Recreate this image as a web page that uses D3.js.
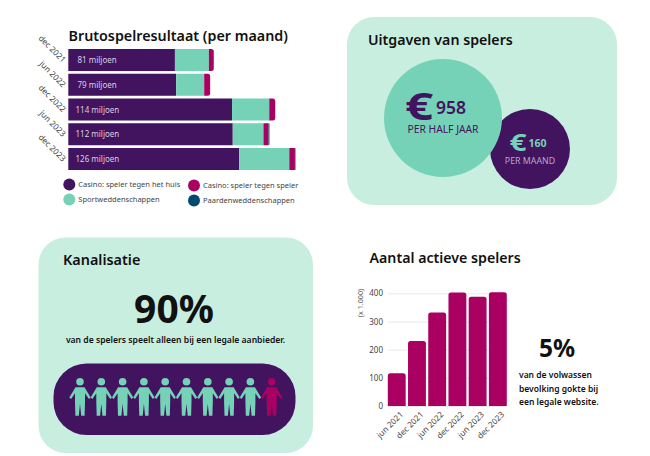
<!DOCTYPE html>
<html>
<head>
<meta charset="utf-8">
<script src="https://cdn.jsdelivr.net/npm/d3@7"></script>
<style>
  html, body { margin: 0; padding: 0; background: #fff; }
  svg { display: block; font-family: "Noto Sans", sans-serif; }
  .domain { display: none; }
</style>
</head>
<body>
<script>
// brutospelresultaat, in miljoen per maand
var periods = ["dec 2021", "jun 2022", "dec 2022", "jun 2023", "dec 2023"];
var totals = ["81 miljoen", "79 miljoen", "114 miljoen", "112 miljoen", "126 miljoen"];
var casinoHuis = [59, 59.7, 90.6, 91, 94.5];
var sport = [18.8, 15.5, 20.6, 17, 27.8];
var casinoSpeler = [2.7, 3.3, 3.3, 2.8, 3.1];
var paard = [0, 0, 0, 0.5, 0.3];

var legendNames = ["Casino: speler tegen het huis", "Sportweddenschappen", "Casino: speler tegen speler", "Paardenweddenschappen"];

// aantal actieve spelers (x 1.000)
var playerPeriods = ["jun 2021", "dec 2021", "jun 2022", "dec 2022", "jun 2023", "dec 2023"];
var players = [116, 231, 332, 403, 388, 404];
var playerTicks = [0, 100, 200, 300, 400];

// kanalisatie: 9 van de 10 spelers legaal
var people = ["legaal", "legaal", "legaal", "legaal", "legaal", "legaal", "legaal", "legaal", "legaal", "overig"];

var purple = "#42145f", teal = "#76d2b6", magenta = "#a90061", navy = "#01496f", pale = "#c8eee0";
var textDark = "#111";

var svg = d3.select("body").append("svg").attr("width", 650).attr("height", 456);

function panel(x, y, w, h, r) {
  svg.append("rect").attr("x", x).attr("y", y).attr("width", w).attr("height", h)
    .attr("rx", r).attr("fill", pale);
}
function label(x, y, txt, size, weight, fill, anchor) {
  return svg.append("text").attr("x", x).attr("y", y).attr("font-size", size)
    .attr("font-weight", weight).attr("fill", fill)
    .attr("text-anchor", anchor || "start").text(txt);
}
// de euro is breder dan in de Noto letter, dus horizontaal rekken
function euro(x, y, size, fill) {
  svg.append("text").attr("transform", "translate(" + x + "," + y + ") scale(1.3,1)")
    .attr("font-size", size).attr("font-weight", 700).attr("fill", fill).text("€");
}

panel(347, 17, 270, 188, 27);
panel(38.5, 237.5, 274.5, 215.5, 27);

// ---- stacked bars
label(68.5, 40.5, "Brutospelresultaat (per maand)", 14.3, 600, textDark);

var xStack = d3.scaleLinear().domain([0, 126]).range([68.3, 296]);
var yStack = d3.scaleBand().domain(periods).range([49, 170]).paddingInner(0.11);

var seriesList = [casinoHuis, sport, casinoSpeler, paard];
var seriesColors = [purple, teal, magenta, navy];

periods.forEach(function(p, i) {
  var start = 0;
  var lastIdx = d3.max(seriesList.map(function(s, k) { return s[i] > 0 ? k : 0; }));
  seriesList.forEach(function(s, k) {
    if (!(s[i] > 0)) return;
    var x0 = xStack(start), x1 = xStack(start + s[i]);
    var y0 = yStack(p), h = yStack.bandwidth();
    start += s[i];
    if (k === lastIdx) {
      // laatste stuk krijgt ronde hoeken rechts
      var r = Math.min(2.5, x1 - x0);
      svg.append("path")
        .attr("d", "M" + x0 + "," + y0 + "H" + (x1 - r) + "Q" + x1 + "," + y0 + " " + x1 + "," + (y0 + r) +
          "V" + (y0 + h - r) + "Q" + x1 + "," + (y0 + h) + " " + (x1 - r) + "," + (y0 + h) + "H" + x0 + "Z")
        .attr("fill", seriesColors[k]);
    } else {
      svg.append("rect").attr("x", x0).attr("y", y0).attr("width", x1 - x0).attr("height", h)
        .attr("fill", seriesColors[k]);
    }
  });
  label(i < 2 ? 77.5 : 75.5, yStack(p) + yStack.bandwidth() / 2 + 3, totals[i], 8, 400, "#d9cfe0");
});

var yStackAxis = svg.append("g").attr("transform", "translate(68.3,0)")
  .call(d3.axisLeft(yStack).tickSize(0));
yStackAxis.selectAll("text")
  .attr("font-size", 8.2).attr("fill", "#444").attr("font-family", "Noto Sans")
  .attr("x", 0).attr("dy", 0)
  .attr("transform", "translate(-6,3) rotate(45)").attr("text-anchor", "end");

// legenda
var legendX = [69.3, 69.3, 194, 194];
var legendY = [184.5, 199.5, 185.5, 200.5];
var legendColors = [purple, teal, magenta, navy];
legendNames.forEach(function(n, i) {
  svg.append("circle").attr("cx", legendX[i]).attr("cy", legendY[i]).attr("r", 6).attr("fill", legendColors[i]);
  label(legendX[i] + 9, legendY[i] + 2.8, n, 7.5, 400, "#444");
});

// ---- uitgaven
label(368, 45, "Uitgaven van spelers", 14.2, 600, textDark);
svg.append("circle").attr("cx", 530).attr("cy", 149).attr("r", 40).attr("fill", purple);
svg.append("circle").attr("cx", 443).attr("cy", 118).attr("r", 59).attr("fill", teal);

euro(405, 120, 38, purple);
label(436, 114.3, "958", 17.5, 600, purple);
label(443, 133.3, "PER HALF JAAR", 10.3, 400, purple, "middle");
euro(509.5, 150.7, 23, teal);
label(528.5, 147, "160", 10.5, 700, teal);
label(530, 164, "PER MAAND", 8.8, 400, "#b9a7c6", "middle");

// ---- kanalisatie
label(63, 265, "Kanalisatie", 14.4, 600, textDark);
label(174, 322.7, "90%", 39, 700, textDark, "middle");
label(175.5, 343, "van de spelers speelt alleen bij een legale aanbieder.", 8.6, 600, textDark, "middle");

svg.append("rect").attr("x", 53.5).attr("y", 363.5).attr("width", 242).attr("height", 71.5)
  .attr("rx", 33).attr("fill", purple);

var xPeople = d3.scalePoint().domain(d3.range(people.length)).range([80, 271.7]);
var personShape = "M-4.5,5.5H4.5L10.7,15.8L8.9,17.3L5,11.5V20.5L4.6,34H1.2L0,22L-1.2,34H-4.6L-5,20.5V11.5L-8.9,17.3L-10.7,15.8Z";
people.forEach(function(kind, i) {
  var g = svg.append("g").attr("transform", "translate(" + xPeople(i) + ",381.7)")
    .attr("fill", kind === "legaal" ? teal : magenta);
  g.append("circle").attr("r", 3.8);
  g.append("path").attr("d", personShape);
});

// ---- actieve spelers
label(369.5, 263, "Aantal actieve spelers", 14.2, 600, textDark);

var xPlayers = d3.scaleBand().domain(playerPeriods).range([387.8, 506.8]).paddingInner(0.115);
var yPlayers = d3.scaleLinear().domain([0, 400]).range([406, 293.3]);

svg.append("g").attr("transform", "translate(388,0)")
  .call(d3.axisLeft(yPlayers).tickValues(playerTicks).tickSize(-118).tickPadding(5))
  .call(function(g) {
    g.selectAll("line").attr("stroke", "#e8e8e8");
    g.selectAll("text").attr("font-size", 8).attr("fill", "#444").attr("font-family", "Noto Sans");
  });

svg.append("g").selectAll("path").data(players).join("path")
  .attr("fill", magenta)
  .attr("d", function(v, i) {
    var x0 = xPlayers(playerPeriods[i]), x1 = x0 + xPlayers.bandwidth();
    var y0 = yPlayers(v), y1 = yPlayers(0), r = 2.5;
    return "M" + x0 + "," + y1 + "V" + (y0 + r) + "Q" + x0 + "," + y0 + " " + (x0 + r) + "," + y0 +
      "H" + (x1 - r) + "Q" + x1 + "," + y0 + " " + x1 + "," + (y0 + r) + "V" + y1 + "Z";
  });

var xPlayersAxis = svg.append("g").attr("transform", "translate(0,406)")
  .call(d3.axisBottom(xPlayers).tickSize(0));
xPlayersAxis.selectAll("text")
  .attr("font-size", 8.2).attr("fill", "#444").attr("font-family", "Noto Sans")
  .attr("y", 0).attr("dy", 0)
  .attr("transform", "translate(7,9) rotate(-45)").attr("text-anchor", "end");

svg.append("text").attr("transform", "translate(363,303) rotate(-90)")
  .attr("font-size", 7.2).attr("fill", "#555").attr("text-anchor", "middle").text("(x 1.000)");

label(557, 357, "5%", 24.5, 700, textDark, "middle");
label(519, 378, "van de volwassen", 8.5, 600, textDark);
label(519, 391.5, "bevolking gokte bij", 8.5, 600, textDark);
label(519, 405, "een legale website.", 8.5, 600, textDark);
</script>
</body>
</html>
